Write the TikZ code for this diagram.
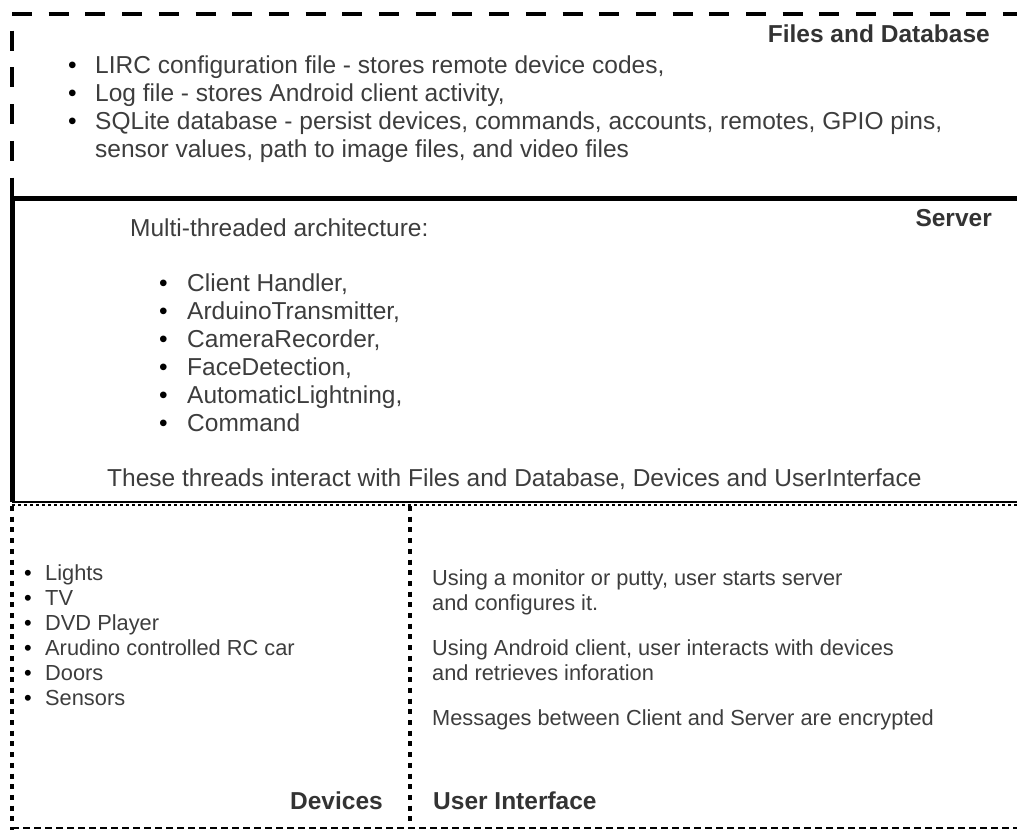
\documentclass[tikz,border=0pt]{standalone}
\usepackage{fontspec}
\setmainfont{Liberation Sans}
\begin{document}
\begin{tikzpicture}[x=1pt,y=-1pt,
  txt/.style={font=\fontsize{24.5}{28}\selectfont, text=black!76, inner sep=0pt, anchor=base west},
  smalltxt/.style={font=\fontsize{21.8}{25}\selectfont, text=black!76, inner sep=0pt, anchor=base west},
  ttl/.style={font=\fontsize{24.5}{28}\selectfont\bfseries, text=black!80, inner sep=0pt},
  bul/.style={font=\fontsize{24.5}{28}\selectfont, text=black, inner sep=0pt, anchor=base west},
  smallbul/.style={font=\fontsize{21.8}{25}\selectfont, text=black, inner sep=0pt, anchor=base west},
  dbframe/.style={draw=black, line width=4.5pt, dash pattern=on 20pt off 16.7pt},
  srvframe/.style={draw=black, line width=5pt},
  dotframe/.style={draw=black, line width=4.5pt, dash pattern=on 5pt off 5.7pt},
  uiline/.style={draw=black, line width=2pt, dash pattern=on 7pt off 4pt}]
\useasboundingbox (0,0) rectangle (1017,830);
\begin{scope}
\clip (0,0) rectangle (1017,830);
% files and database area
\draw[dbframe] (12,14) -- (1100,14);
\draw[dbframe, dash phase=20pt] (12,14) -- (12,200);
% server area
\draw[srvframe] (12,502) -- (12,198) -- (1100,198);
\draw[black, line width=1.5pt] (12,502) -- (1100,502);
% devices and user interface areas
\draw[black, line width=2.5pt, dash pattern=on 3pt off 3pt] (12,505) -- (1100,505);
\draw[dotframe] (12,506) -- (12,830);
\draw[dotframe] (410,506) -- (410,828);
\draw[uiline] (12,828) -- (1100,828);
\end{scope}

% Files and Database
\node[ttl, anchor=base east] (dbt) at (990,42) {Files and Database};
\foreach \y/\t [count=\i] in {64/{LIRC configuration file - stores remote device codes,},
                  92/{Log file - stores Android client activity,},
                  120/{SQLite database - persist devices, commands, accounts, remotes, GPIO pins,}}{
  \node[bul] (dbb\i) at (68,\y+9) {•};
  \node[txt] (db\i) at (95,\y+9) {\t};
}
\node[txt] (db4) at (95,157) {sensor values, path to image files, and video files};

% Server
\node[ttl, anchor=base east] (srvt) at (992,226) {Server};
\node[txt] (srvh) at (130,236) {Multi-threaded architecture:};
\foreach \y/\t [count=\i] in {282/{Client Handler,}, 310/{ArduinoTransmitter,},
                  338/{CameraRecorder,}, 366/{FaceDetection,},
                  394/{AutomaticLightning,}, 422/{Command}}{
  \node[bul] (srvb\i) at (159,\y+9) {•};
  \node[txt] (srv\i) at (187,\y+9) {\t};
}
\node[txt] (srvf) at (107,486) {These threads interact with Files and Database, Devices and UserInterface};

% Devices
\foreach \y/\t [count=\i] in {572/Lights, 597/TV, 622/DVD Player,
                  647/Arudino controlled RC car, 672/Doors, 697/Sensors}{
  \node[smallbul] (devb\i) at (24,\y+8) {•};
  \node[smalltxt] (dev\i) at (45,\y+8) {\t};
}
\node[ttl, anchor=base east] (devt) at (383,809) {Devices};

% User Interface
\node[smalltxt] (ui1) at (432,585) {Using a monitor or putty, user starts server};
\node[smalltxt] (ui2) at (432,610) {and configures it.};
\node[smalltxt] (ui3) at (432,655) {Using Android client, user interacts with devices};
\node[smalltxt] (ui4) at (432,680) {and retrieves inforation};
\node[smalltxt] (ui5) at (432,725) {Messages between Client and Server are encrypted};
\node[ttl, anchor=base west] (uit) at (433,809) {User Interface};
\end{tikzpicture}
\end{document}
